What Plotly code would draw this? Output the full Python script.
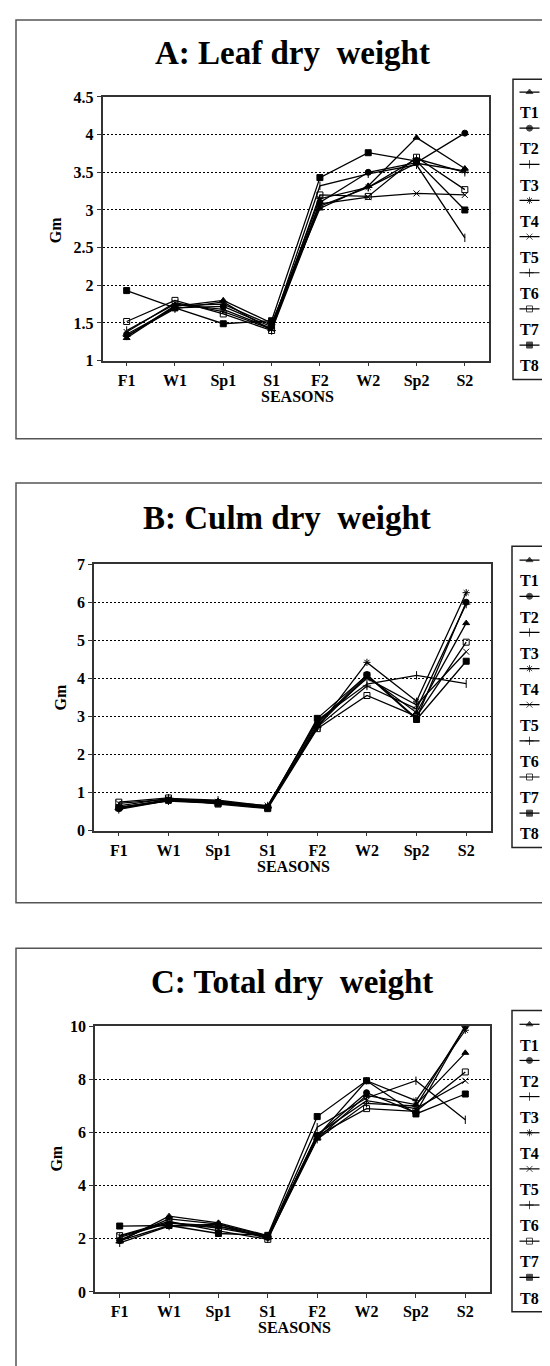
import plotly.graph_objects as go

W, H = 550, 1366

seasons = ["F1", "W1", "Sp1", "S1", "F2", "W2", "Sp2", "S2"]
treatments = ["T1", "T2", "T3", "T4", "T5", "T6", "T7", "T8"]

# A: Leaf dry weight (Gm)
leaf_T1 = [1.30, 1.72, 1.80, 1.50, 3.02, 3.32, 3.96, 3.55]
leaf_T2 = [1.35, 1.70, 1.72, 1.45, 3.10, 3.50, 3.63, 4.02]
leaf_T3 = [1.40, 1.75, 1.68, 1.43, 3.32, 3.48, 3.60, 2.63]
leaf_T4 = [1.32, 1.73, 1.75, 1.47, 3.15, 3.30, 3.62, 3.52]
leaf_T5 = [1.38, 1.77, 1.65, 1.42, 3.08, 3.17, 3.22, 3.20]
leaf_T6 = [1.33, 1.69, 1.78, 1.40, 3.05, 3.30, 3.68, 3.50]
leaf_T7 = [1.52, 1.80, 1.62, 1.40, 3.20, 3.18, 3.70, 3.27]
leaf_T8 = [1.93, 1.70, 1.49, 1.53, 3.43, 3.76, 3.65, 3.00]

# B: Culm dry weight (Gm)
culm_T1 = [0.60, 0.82, 0.78, 0.62, 2.75, 4.05, 3.10, 5.45]
culm_T2 = [0.58, 0.80, 0.75, 0.60, 2.80, 4.10, 2.95, 6.00]
culm_T3 = [0.65, 0.85, 0.80, 0.65, 2.90, 3.85, 4.08, 3.86]
culm_T4 = [0.62, 0.78, 0.72, 0.63, 2.70, 4.42, 3.40, 6.25]
culm_T5 = [0.72, 0.83, 0.76, 0.66, 2.85, 4.00, 3.30, 4.70]
culm_T6 = [0.56, 0.79, 0.74, 0.61, 2.72, 3.80, 3.20, 5.95]
culm_T7 = [0.75, 0.86, 0.70, 0.58, 2.68, 3.55, 3.00, 4.95]
culm_T8 = [0.60, 0.80, 0.72, 0.60, 2.95, 4.08, 2.92, 4.45]

# C: Total dry weight (Gm)
total_T1 = [1.90, 2.85, 2.60, 2.12, 5.77, 7.40, 7.05, 9.00]
total_T2 = [1.93, 2.50, 2.47, 2.05, 5.90, 7.50, 6.75, 10.0]
total_T3 = [2.05, 2.60, 2.48, 2.08, 6.20, 7.30, 7.95, 6.48]
total_T4 = [1.95, 2.75, 2.55, 2.10, 5.85, 7.95, 7.20, 9.85]
total_T5 = [2.10, 2.60, 2.40, 2.08, 5.93, 7.20, 6.90, 7.95]
total_T6 = [1.85, 2.48, 2.55, 2.00, 5.75, 7.10, 7.00, 10.0]
total_T7 = [2.12, 2.65, 2.30, 1.98, 5.88, 6.90, 6.80, 8.28]
total_T8 = [2.48, 2.50, 2.20, 2.13, 6.60, 7.95, 6.70, 7.45]

leaf = [leaf_T1, leaf_T2, leaf_T3, leaf_T4, leaf_T5, leaf_T6, leaf_T7, leaf_T8]
culm = [culm_T1, culm_T2, culm_T3, culm_T4, culm_T5, culm_T6, culm_T7, culm_T8]
total = [total_T1, total_T2, total_T3, total_T4, total_T5, total_T6, total_T7, total_T8]

symbols = ["triangle-up", "circle", "line-ns-open", "asterisk-open",
           "x-thin-open", "cross-thin-open", "square-open", "square"]

FONT = "Liberation Serif"

def px(p):
    return p / W

def py(p):
    return 1 - p / H

panels = [
    dict(title="A: Leaf dry\u00a0 weight", data=leaf, yr=[1, 4.5], dt=0.5,
         dom_x=[94.5, 481], dom_y=[82, 349], box=[4, 428], leg_x=[505, 538], leg=[64, 368],
         samp0=77, lab0=98, tpos=(284, 37), gm=(47, 217), sea=(289, 385)),
    dict(title="B: Culm dry\u00a0 weight", data=culm, yr=[0, 7], dt=1,
         dom_x=[86, 483], dom_y=[555, 825], box=[473, 898], leg_x=[504, 539], leg=[537, 842],
         samp0=551, lab0=572, tpos=(279, 508), gm=(52, 690), sea=(285, 861)),
    dict(title="C: Total dry\u00a0 weight", data=total, yr=[0, 10], dt=2,
         dom_x=[87, 482], dom_y=[1023, 1292], box=[944, 1372], leg_x=[504, 539], leg=[1007, 1312],
         samp0=1021, lab0=1042, tpos=(284, 978), gm=(49, 1157), sea=(286, 1328)),
]

PITCH = 36.6

fig = go.Figure()
shapes = []
annotations = []
layout_axes = {}

for i, p in enumerate(panels):
    n = i + 1
    xa = "x" if n == 1 else f"x{n}"
    ya = "y" if n == 1 else f"y{n}"
    for k, t in enumerate(treatments):
        fig.add_trace(go.Scatter(
            x=seasons, y=p["data"][k], mode="lines+markers", name=t,
            xaxis=xa, yaxis=ya, showlegend=False,
            line=dict(color="black", width=1.3),
            marker=dict(symbol=symbols[k], size=6, color="black",
                        line=dict(color="black", width=1)),
        ))
    axis_common = dict(showline=True, linecolor="#333", linewidth=1.5, mirror=True,
                       ticks="outside", ticklen=4, tickcolor="#333", tickwidth=1.2,
                       tickfont=dict(family=FONT, size=16, color="black", weight="bold"),
                       zeroline=False)
    layout_axes["xaxis" if n == 1 else f"xaxis{n}"] = dict(
        axis_common, domain=[px(p["dom_x"][0]), px(p["dom_x"][1])],
        anchor=ya, type="category", categoryorder="array", categoryarray=seasons,
        range=[-0.5, 7.5], showgrid=False)
    layout_axes["yaxis" if n == 1 else f"yaxis{n}"] = dict(
        axis_common, domain=[py(p["dom_y"][1]), py(p["dom_y"][0])],
        anchor=xa, range=p["yr"], dtick=p["dt"], tick0=0,
        showgrid=True, gridcolor="black", gridwidth=1.2, griddash="2px,2px")

    # legend axes
    ln = n + 3
    lxa, lya = f"x{ln}", f"y{ln}"
    lx0, lx1 = p["leg_x"]
    cx = (lx0 + lx1) / 2
    layout_axes[f"xaxis{ln}"] = dict(domain=[px(lx0), px(lx1)], range=[lx0, lx1],
                                     visible=False, anchor=lya, fixedrange=True)
    layout_axes[f"yaxis{ln}"] = dict(domain=[py(p["leg"][1]), py(p["leg"][0])],
                                     range=[p["leg"][1], p["leg"][0]],
                                     visible=False, anchor=lxa, fixedrange=True)
    for k, t in enumerate(treatments):
        ys = p["samp0"] + k * PITCH
        fig.add_trace(go.Scatter(
            x=[cx - 10, cx, cx + 10], y=[ys, ys, ys], mode="lines+markers",
            xaxis=lxa, yaxis=lya, showlegend=False, hoverinfo="skip",
            line=dict(color="black", width=1.2),
            marker=dict(symbol=symbols[k], size=[0, 6, 0], color="black",
                        line=dict(color="black", width=1)),
        ))
        annotations.append(dict(
            x=cx, y=p["lab0"] + k * PITCH, xref=lxa, yref=lya, text=t,
            showarrow=False, xanchor="center", yanchor="middle",
            font=dict(family=FONT, size=16, color="black", weight="bold")))

    # panel box
    shapes.append(dict(type="rect", xref="paper", yref="paper",
                       x0=px(8), x1=px(575), y0=py(p["box"][1]), y1=py(p["box"][0]),
                       line=dict(color="#555", width=1.5)))
    # legend box
    shapes.append(dict(type="rect", xref="paper", yref="paper",
                       x0=px(lx0), x1=px(lx1), y0=py(p["leg"][1]), y1=py(p["leg"][0]),
                       line=dict(color="#222", width=1.5)))
    # title
    annotations.append(dict(x=px(p["tpos"][0]), y=py(p["tpos"][1]), xref="paper", yref="paper",
                            text=p["title"], showarrow=False, xanchor="center", yanchor="middle",
                            font=dict(family=FONT, size=33, color="black", weight="bold")))
    annotations.append(dict(x=px(p["gm"][0]), y=py(p["gm"][1]), xref="paper", yref="paper",
                            text="Gm", showarrow=False, textangle=-90,
                            xanchor="center", yanchor="middle",
                            font=dict(family=FONT, size=16, color="black", weight="bold")))
    annotations.append(dict(x=px(p["sea"][0]), y=py(p["sea"][1]), xref="paper", yref="paper",
                            text="SEASONS", showarrow=False, xanchor="center", yanchor="middle",
                            font=dict(family=FONT, size=16, color="black", weight="bold")))

fig.update_layout(
    width=W, height=H, margin=dict(l=0, r=0, t=0, b=0),
    paper_bgcolor="white", plot_bgcolor="white",
    showlegend=False, shapes=shapes, annotations=annotations,
    **layout_axes,
)

fig.write_html("out.html")
